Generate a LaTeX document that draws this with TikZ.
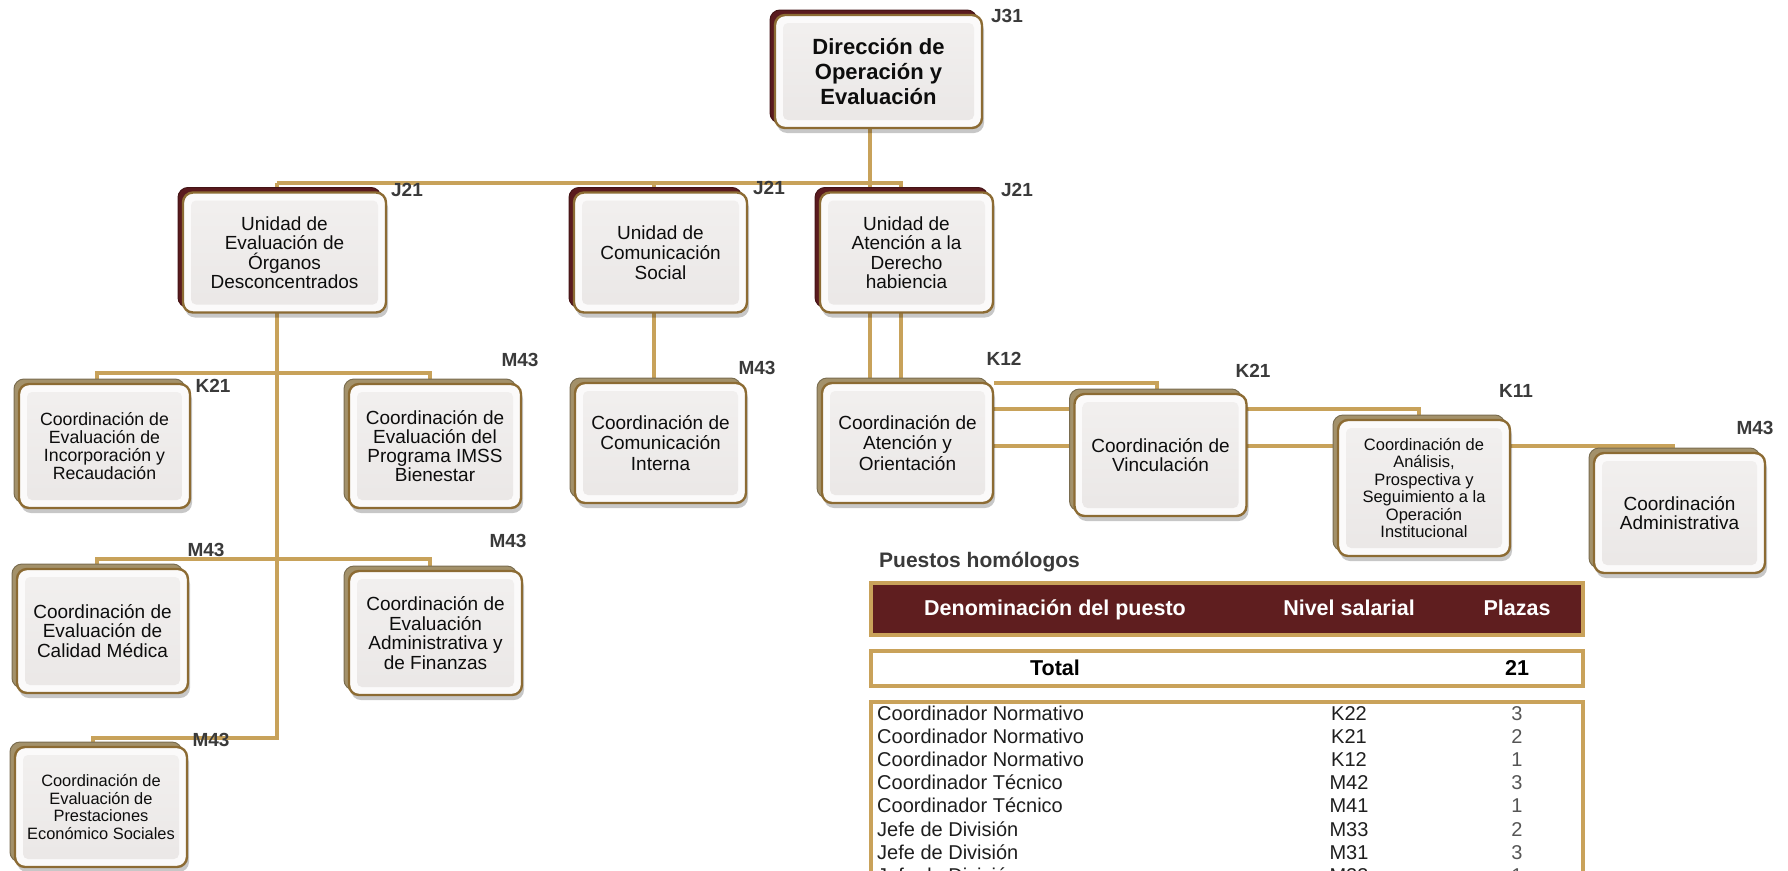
\documentclass[tikz,border=0pt]{standalone}
\usepackage{fontspec}
\setmainfont{Liberation Sans}
\usetikzlibrary{backgrounds}
\definecolor{gold}{HTML}{C8A25A}
\definecolor{boxedge}{HTML}{8C6B33}
\definecolor{maroonback}{HTML}{5A1A1E}
\definecolor{tanback}{HTML}{A3916A}
\definecolor{boxface}{HTML}{FBFAFA}
\definecolor{innertop}{HTML}{F2F0EF}
\definecolor{innerbot}{HTML}{EAE7E6}
\definecolor{lblc}{HTML}{3A3A3A}
\definecolor{hdrfill}{HTML}{5F1E1F}
\definecolor{tblgold}{HTML}{C9A25A}
\definecolor{numgray}{HTML}{555555}
\definecolor{rowtext}{HTML}{1E1E1E}
\newcommand\setfs[2]{\fontsize{#1pt}{#2pt}\selectfont}
\tikzset{
  obox/.style={rounded corners=10pt, fill=boxface, draw=boxedge, line width=2.4pt,
    align=center, inner sep=2pt, text=black!95,
    preaction={fill=black, opacity=0.22, transform canvas={xshift=2pt, yshift=-5pt}},
    preaction={fill=#1, draw=#1!75!black, line width=1pt, transform canvas={xshift=-5pt, yshift=5pt}},
    path picture={\shade[top color=innertop, bottom color=innerbot, rounded corners=5pt]
      ([shift={(8pt,8pt)}]path picture bounding box.south west) rectangle
      ([shift={(-8pt,-8pt)}]path picture bounding box.north east);}},
  lbl/.style={font=\bfseries\setfs{19}{19}, text=lblc, inner sep=0pt},
  conn/.style={draw=gold, line width=4pt, line join=miter},
  tframe/.style={draw=tblgold, line width=4pt, inner sep=0pt, anchor=north west, minimum width=712pt},
  hdrtext/.style={font=\bfseries\setfs{21.5}{21.5}, inner sep=0pt, anchor=base},
  rowf/.style={font=\setfs{20}{20}, text=rowtext, inner sep=0pt},
}
\begin{document}
\begin{tikzpicture}[x=1pt,y=-1pt]
\clip (0,0) rectangle (1788,870);

% ---------- boxes ----------
\node[obox=maroonback, minimum width=207pt, minimum height=113pt, font=\bfseries\setfs{22}{25}] (dir) at (878.5,71.5) {Dirección de\\Operación y\\Evaluación};

\node[obox=maroonback, minimum width=203pt, minimum height=120pt, font=\setfs{19}{19.5}] (ueod) at (284.5,252.5) {Unidad de\\Evaluación de\\Órganos\\Desconcentrados};
\node[obox=maroonback, minimum width=173pt, minimum height=120pt, font=\setfs{19}{20}] (ucs) at (660.5,252.5) {Unidad de\\Comunicación\\Social};
\node[obox=maroonback, minimum width=173pt, minimum height=120pt, font=\setfs{19}{19.5}] (uad) at (906.5,252.5) {Unidad de\\Atención a la\\Derecho\\habiencia};

\node[obox=tanback, minimum width=171pt, minimum height=124pt, font=\setfs{17.7}{18}] (cei) at (104.5,446) {Coordinación de\\Evaluación de\\Incorporación y\\Recaudación};
\node[obox=tanback, minimum width=172pt, minimum height=124pt, font=\setfs{19}{18.8}] (cep) at (435,446) {Coordinación de\\Evaluación del\\Programa IMSS\\Bienestar};
\node[obox=tanback, minimum width=171pt, minimum height=124pt, font=\setfs{19}{19.5}] (cecm) at (102.5,631) {Coordinación de\\Evaluación de\\Calidad Médica};
\node[obox=tanback, minimum width=173pt, minimum height=124pt, font=\setfs{19}{19.5}] (ceaf) at (435.5,633) {Coordinación de\\Evaluación\\Administrativa y\\de Finanzas};
\node[obox=tanback, minimum width=172pt, minimum height=120pt, font=\setfs{16.4}{17.5}] (cepes) at (101,807) {Coordinación de\\Evaluación de\\Prestaciones\\Económico Sociales};

\node[obox=tanback, minimum width=171pt, minimum height=120pt, font=\setfs{19}{20.5}] (cci) at (660.5,443) {Coordinación de\\Comunicación\\Interna};
\node[obox=tanback, minimum width=171pt, minimum height=120pt, font=\setfs{19}{20.5}] (cao) at (907.5,443) {Coordinación de\\Atención y\\Orientación};
\node[obox=tanback, minimum width=172pt, minimum height=122pt, font=\setfs{19}{19.5}] (cv) at (1160.5,455) {Coordinación de\\Vinculación};
\node[obox=tanback, minimum width=172pt, minimum height=136pt, font=\setfs{16.5}{17.4}] (capso) at (1424,488) {Coordinación de\\Análisis,\\Prospectiva y\\Seguimiento a la\\Operación\\Institucional};
\node[obox=tanback, minimum width=171pt, minimum height=120pt, font=\setfs{19}{19.5}] (cad) at (1679.5,513) {Coordinación\\Administrativa};

% ---------- level labels ----------
\node[lbl] (l0) at (1007,16) {J31};
\node[lbl] (l1) at (407,190) {J21};
\node[lbl] (l2) at (769,188) {J21};
\node[lbl] (l3) at (1017,190) {J21};
\node[lbl] (l4) at (213,386) {K21};
\node[lbl] (l5) at (520,360) {M43};
\node[lbl] (l6) at (206,550) {M43};
\node[lbl] (l7) at (508,541) {M43};
\node[lbl] (l8) at (211,740) {M43};
\node[lbl] (l9) at (757,368) {M43};
\node[lbl] (l10) at (1004,359) {K12};
\node[lbl] (l11) at (1253,371) {K21};
\node[lbl] (l12) at (1516,391) {K11};
\node[lbl] (l13) at (1755,428) {M43};

% ---------- connectors ----------
\coordinate (hL) at (277,183);
\coordinate (hC) at (654,183);
\coordinate (hM) at (870,183);
\coordinate (hR) at (901,183);
\coordinate (b1) at (97,373);
\coordinate (b2) at (430,373);
\coordinate (b3) at (97,559);
\coordinate (b4) at (430,559);
\coordinate (vL) at (277,738);
\coordinate (pL) at (93,738);
\coordinate (a1) at (1157,383);
\coordinate (a2) at (1419,409);
\coordinate (a3) at (1673,446);
\begin{scope}[on background layer]
  \draw[conn] (dir.south -| hM) -- (hM |- cao.north);
  \draw[conn] (hL) -- (hR) -- (hR |- cao.north);
  \draw[conn] (hC) -- (hC |- cci.north);
  \draw[conn] (hL) -- (vL) -- (pL) -- (pL |- cepes.north);
  \draw[conn] (b1 |- cei.north) -- (b1) -- (b2) -- (b2 |- cep.north);
  \draw[conn] (b3 |- cecm.north) -- (b3) -- (b4) -- (b4 |- ceaf.north);
  \draw[conn] (cao.east |- a1) -- (a1) -- (a1 |- cv.north);
  \draw[conn] (cao.east |- a2) -- (a2) -- (a2 |- capso.north);
  \draw[conn] (cao.east |- a3) -- (a3) -- (a3 |- cad.north);
\end{scope}

% ---------- table ----------
\node[anchor=base west, font=\bfseries\setfs{21}{21}, text=lblc, inner sep=0pt] (ph) at (879,567) {Puestos homólogos};
\node[tframe, fill=hdrfill, minimum height=52pt] (thd) at (869,581) {};
\node[hdrtext, text=white] (th1) at (1055,615) {Denominación del puesto};
\node[hdrtext, text=white] (th2) at (1349,615) {Nivel salarial};
\node[hdrtext, text=white] (th3) at (1517,615) {Plazas};
\node[tframe, fill=white, minimum height=35pt] (ttot) at (869,649) {};
\node[hdrtext, text=black] (tt1) at (1055,675) {Total};
\node[hdrtext, text=black] (tt3) at (1517,675) {21};
\node[tframe, minimum height=200pt] (tbody) at (869,700) {};
\foreach \a/\b/\c [count=\i from 0] in {Coordinador Normativo/K22/3, Coordinador Normativo/K21/2, Coordinador Normativo/K12/1, Coordinador Técnico/M42/3, Coordinador Técnico/M41/1, Jefe de División/M33/2, Jefe de División/M31/3, Jefe de División/M23/1}{
  \pgfmathsetmacro\yy{720+23.2*\i}
  \node[rowf, anchor=base west] (ra\i) at (877,\yy) {\a};
  \node[rowf, anchor=base] (rb\i) at (1349,\yy) {\b};
  \node[rowf, anchor=base, text=numgray] (rc\i) at (1517,\yy) {\c};
}
\end{tikzpicture}
\end{document}
